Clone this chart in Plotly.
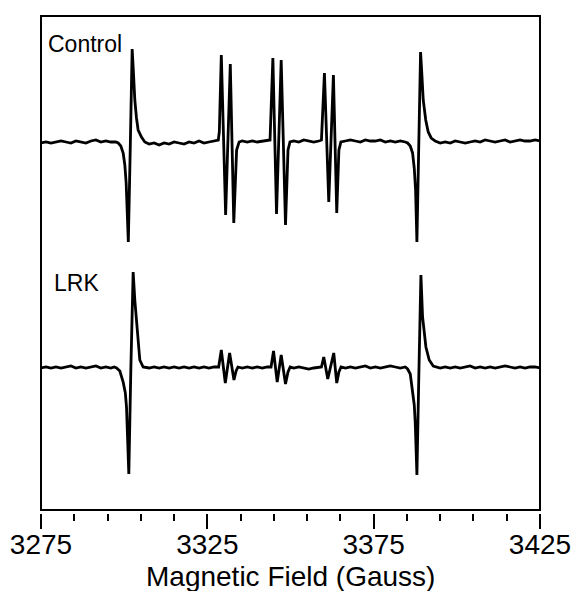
import plotly.graph_objects as go

# ---------------- data ----------------
# Magnetic field (Gauss) sample points and derivative signal (arb. units, baseline = 0)
CONTROL_FIELD = [
    3275, 3276.5, 3278, 3279.5, 3281, 3282.5, 3284, 3285.5, 3287, 3288.5, 3290, 3291.5, 3293, 3294.5, 3296, 3297.5,
    3298.2, 3299.0, 3299.7, 3300.2, 3300.6, 3300.95, 3301.25, 3301.85, 3302.4, 3302.75, 3303.2, 3303.7, 3304.2, 3305.2, 3306.2,
    3307.5, 3309, 3310.5, 3312, 3313.5, 3315, 3316.5, 3318, 3319.5, 3321, 3322.5, 3324, 3325.5, 3327,
    3328.3, 3328.6, 3329.2, 3330.5, 3331.9, 3332.95, 3333.8, 3334.55,
    3335.5, 3337, 3338.5, 3340, 3341.5, 3343,
    3343.85, 3344.7, 3345.8, 3347.2, 3348.5, 3349.25, 3349.85,
    3351, 3352.5, 3354, 3355.5, 3357, 3358.5,
    3359.3, 3360.2, 3361.5, 3362.9, 3363.9, 3364.55, 3365.15,
    3366.5, 3368, 3369.5, 3371, 3372.5, 3374, 3375.5, 3377, 3378.5, 3380, 3381.5, 3383, 3384.5,
    3385.2, 3386.0, 3386.7, 3387.2, 3387.6, 3388.0, 3388.55, 3389.1, 3389.45, 3389.9, 3390.65, 3391.4, 3392.3, 3393.5,
    3395, 3396.5, 3398, 3399.5, 3401, 3402.5, 3404, 3405.5, 3407, 3408.5, 3410, 3411.5, 3413, 3414.5, 3416, 3417.5,
    3419, 3420.5, 3422, 3423.5, 3425,
]
CONTROL_SIGNAL = [
    -1, 0, -1, 0, 1, 0, -1, 1, 0, -1, 1, 2, 0, 1, 0, 0,
    -1, -4, -11, -23, -41, -73, -100, -3, 93, 72, 42, 24, 12, 5, 0,
    -2, -1, -3, -1, -2, 0, -1, -2, 0, -1, 1, -1, 0, 1,
    2, 10, 87, -73, 78, -81, -8, 0,
    1, 0, 1, 0, 1, 2,
    2, 84, -72, 82, -83, -8, 0,
    1, 0, 2, 1, 0, 1,
    2, 69, -60, 67, -71, -8, 0,
    1, 2, 1, 0, 2, 1, 1, 2, 0, 1, 0, 1, 0,
    -1, -4, -11, -26, -48, -100, -3, 90, 70, 42, 22, 10, 4, 1,
    -1, 0, -1, 1, 0, -1, 0, 1, 0, 2, 1, 0, 1, 2, 0, 1,
    2, 1, 1, 2, 1,
]

LRK_FIELD = [
    3275, 3276.5, 3278, 3279.5, 3281, 3282.5, 3284, 3285.5, 3287, 3288.5, 3290, 3291.5, 3293, 3294.5, 3296, 3297.0,
    3297.7, 3298.7, 3299.7, 3300.35, 3300.7, 3301.1, 3301.4, 3302.0, 3302.7, 3303.2, 3303.7, 3304.2, 3304.7, 3305.7,
    3307.5, 3309, 3310.5, 3312, 3313.5, 3315, 3316.5, 3318, 3319.5, 3321, 3322.5, 3324, 3325.5, 3327,
    3328.4, 3329.2, 3330.4, 3331.7, 3333.0, 3333.65, 3334.2,
    3335.5, 3337, 3338.5, 3340, 3341.5, 3343,
    3344.15, 3344.9, 3346.0, 3347.2, 3348.5, 3349.25, 3349.9,
    3351, 3352.5, 3354, 3355.5, 3357, 3358.5,
    3359.3, 3360.0, 3361.2, 3363.0, 3363.9, 3364.55, 3365.2,
    3366.5, 3368, 3369.5, 3371, 3372.5, 3374, 3375.5, 3377, 3378.5, 3380, 3381.5, 3383, 3384.5,
    3385.2, 3386.0, 3386.7, 3387.2, 3387.5, 3388.0, 3388.55, 3389.2, 3389.7, 3390.2, 3390.7, 3391.7, 3392.9,
    3395, 3396.5, 3398, 3399.5, 3401, 3402.5, 3404, 3405.5, 3407, 3408.5, 3410, 3411.5, 3413, 3414.5, 3416, 3417.5,
    3419, 3420.5, 3422, 3423.5, 3425,
]
LRK_SIGNAL = [
    0, 1, 0, 1, 0, 1, 2, 0, 1, 0, 1, 2, 0, 1, 0, 1,
    0, -3, -14, -25, -39, -72, -106, -2, 96, 68, 45, 23, 8, 1,
    0, 1, 0, 1, 0, 1, 0, 1, 0, 1, 0, 1, 0, 1,
    1, 18, -15, 15, -12, -3, 1,
    0, 1, 0, 1, 0, 1,
    1, 17, -14, 13, -16, -4, 1,
    0, 1, 0, -1, 0, 1,
    1, 11, -11, 15, -15, -4, 1,
    0, 1, 0, 1, 2, 0, 1, 0, 1, 2, 1, 0, 1,
    -1, -6, -22, -37, -55, -107, -12, 93, 51, 33, 21, 8, 2,
    0, 1, 0, 1, 0, 1, 2, 0, 1, 0, 1, 0, 1, 2, 1, 0,
    1, 0, 1, 1, 0,
]

SPECTRUM_LABELS = ["Control", "LRK"]
X_TICKS = [3275, 3325, 3375, 3425]
X_TITLE = "Magnetic Field (Gauss)"

# vertical offsets used to stack the two spectra
CONTROL_OFFSET = 371
LRK_OFFSET = 145

# ---------------- figure ----------------
FONT = "Liberation Sans, Arial, Helvetica, sans-serif"
W, H = 576, 591
ML, MR, MT, MB = 41, 36, 16, 78
PH = H - MT - MB
PW = W - ML - MR

fig = go.Figure()
fig.add_trace(go.Scatter(
    x=CONTROL_FIELD, y=[v + CONTROL_OFFSET for v in CONTROL_SIGNAL],
    mode="lines", line=dict(color="black", width=2.8), showlegend=False, name="Control"))
fig.add_trace(go.Scatter(
    x=LRK_FIELD, y=[v + LRK_OFFSET for v in LRK_SIGNAL],
    mode="lines", line=dict(color="black", width=2.8), showlegend=False, name="LRK"))

# frame (sits slightly above the tick axis)
fig.add_shape(type="rect", xref="paper", yref="paper", x0=0, x1=1, y0=3 / PH, y1=1,
              line=dict(color="black", width=2), fillcolor="rgba(0,0,0,0)", layer="above")

fig.add_annotation(text=SPECTRUM_LABELS[0], xref="paper", yref="paper",
                   x=5 / PW, y=(H - MB - 44) / PH, xanchor="left", yanchor="middle",
                   showarrow=False, font=dict(family=FONT, size=23, color="black"))
fig.add_annotation(text=SPECTRUM_LABELS[1], xref="paper", yref="paper",
                   x=11 / PW, y=(H - MB - 283) / PH, xanchor="left", yanchor="middle",
                   showarrow=False, font=dict(family=FONT, size=23, color="black"))

# axis title placed as paper annotation so its position is exact
fig.add_annotation(text=X_TITLE, xref="paper", yref="paper",
                   x=0.5, y=-(576 - (H - MB)) / PH, xanchor="center", yanchor="middle",
                   showarrow=False, font=dict(family=FONT, size=28, color="black"))

fig.update_layout(
    width=W, height=H,
    margin=dict(l=ML, r=MR, t=MT, b=MB, pad=0, autoexpand=False),
    paper_bgcolor="white", plot_bgcolor="white",
    font=dict(family=FONT, color="black"),
    xaxis=dict(
        range=[3275, 3425], tickmode="array", tickvals=X_TICKS,
        ticktext=[str(t) for t in X_TICKS],
        ticks="outside", ticklen=15, tickwidth=1.5, tickcolor="black",
        minor=dict(tickmode="linear", tick0=3275, dtick=10, ticks="outside", ticklen=7,
                   tickwidth=1.5, tickcolor="black", showgrid=False),
        showgrid=False, zeroline=False, showline=False, automargin=False,
        ticklabelstandoff=-9,
        tickfont=dict(family=FONT, size=28, color="black"),
    ),
    yaxis=dict(range=[0, PH], visible=False, showgrid=False, zeroline=False, automargin=False),
)

fig.write_html("out.html")
